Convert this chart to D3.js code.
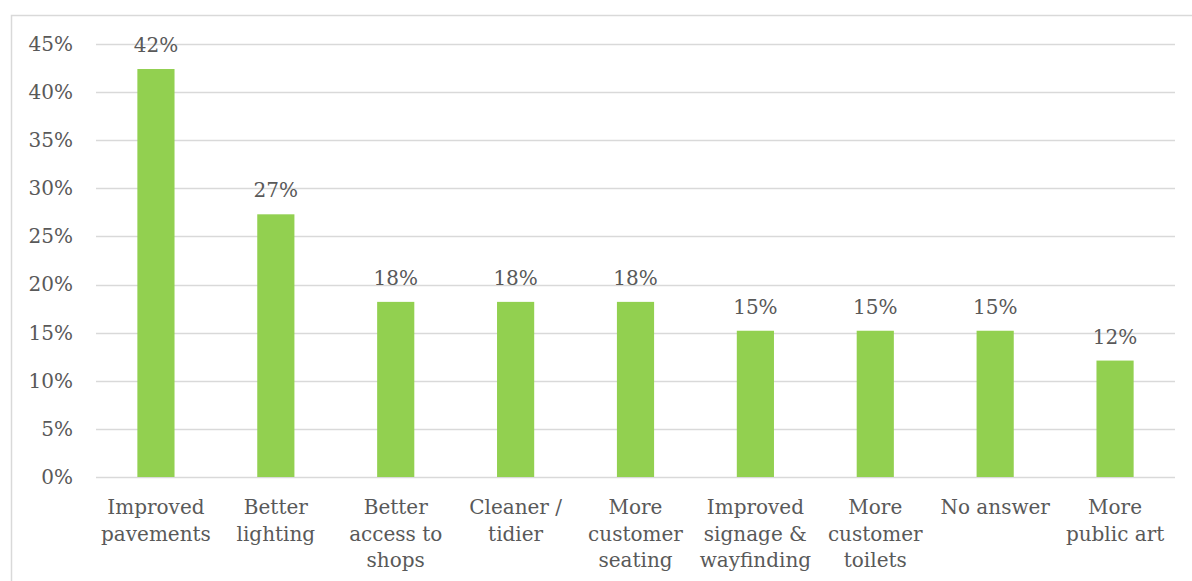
<!DOCTYPE html>
<html>
<head>
<meta charset="utf-8">
<script src="https://cdn.jsdelivr.net/npm/d3@7"></script>
<style>
  html, body { margin: 0; padding: 0; background: #fff; }
  svg { display: block; }
  text { font-family: "DejaVu Serif", Georgia, serif; fill: #595959; }
</style>
</head>
<body>
<svg id="chart" width="1192" height="581"></svg>
<script>
// Share of respondents choosing each improvement (percent)
const categories = [
  ["Improved", "pavements"],
  ["Better", "lighting"],
  ["Better", "access to", "shops"],
  ["Cleaner /", "tidier"],
  ["More", "customer", "seating"],
  ["Improved", "signage &", "wayfinding"],
  ["More", "customer", "toilets"],
  ["No answer"],
  ["More", "public art"]
];
const values = [42.4, 27.3, 18.2, 18.2, 18.2, 15.2, 15.2, 15.2, 12.1];
const yTicks = [0, 5, 10, 15, 20, 25, 30, 35, 40, 45];

const svg = d3.select("#chart");
const W = 1192, H = 581;
const fontSize = 20;

// outer chart frame
svg.append("rect")
  .attr("x", 11.5).attr("y", 15.5)
  .attr("width", W + 10).attr("height", H + 10)
  .attr("fill", "#fff").attr("stroke", "#d9d9d9").attr("stroke-width", 1.5);

const plot = { left: 96, right: 1175, top: 44, bottom: 477 };

const x = d3.scaleBand()
  .domain(d3.range(categories.length))
  .range([plot.left, plot.right])
  .paddingInner(0.69).paddingOuter(0.345);

const y = d3.scaleLinear().domain([0, 45]).range([plot.bottom, plot.top]);

// horizontal gridlines
svg.append("g").selectAll("line").data(yTicks).join("line")
  .attr("x1", plot.left).attr("x2", plot.right)
  .attr("y1", d => Math.round(y(d)) + 0.5).attr("y2", d => Math.round(y(d)) + 0.5)
  .attr("stroke", "#d9d9d9").attr("stroke-width", 1.5);

// y axis labels
const yAxis = d3.axisLeft(y).tickValues(yTicks).tickFormat(d => d + "%").tickSize(0).tickPadding(0);
const ya = svg.append("g").attr("transform", `translate(${plot.left - 23},0)`).call(yAxis);
ya.select(".domain").remove();
ya.selectAll("text")
  .attr("font-size", fontSize)
  .attr("font-family", "DejaVu Serif, Georgia, serif")
  .attr("fill", "#595959");

// bars
svg.append("g").selectAll("rect").data(values).join("rect")
  .attr("x", (d, i) => x(i))
  .attr("y", d => y(d))
  .attr("width", x.bandwidth())
  .attr("height", d => y(0) - y(d))
  .attr("fill", "#92d050");

// value labels
svg.append("g").selectAll("text").data(values).join("text")
  .attr("x", (d, i) => x(i) + x.bandwidth() / 2)
  .attr("y", d => y(d) - 17)
  .attr("text-anchor", "middle")
  .attr("font-size", fontSize)
  .text(d => Math.round(d) + "%");

// category labels
const cat = svg.append("g").selectAll("text").data(categories).join("text")
  .attr("x", (d, i) => x(i) + x.bandwidth() / 2)
  .attr("y", 514)
  .attr("text-anchor", "middle")
  .attr("font-size", fontSize);
cat.selectAll("tspan").data(d => d).join("tspan")
  .attr("x", function () { return d3.select(this.parentNode).attr("x"); })
  .attr("dy", (d, j) => j === 0 ? 0 : 26.5)
  .text(d => d);
</script>
</body>
</html>
